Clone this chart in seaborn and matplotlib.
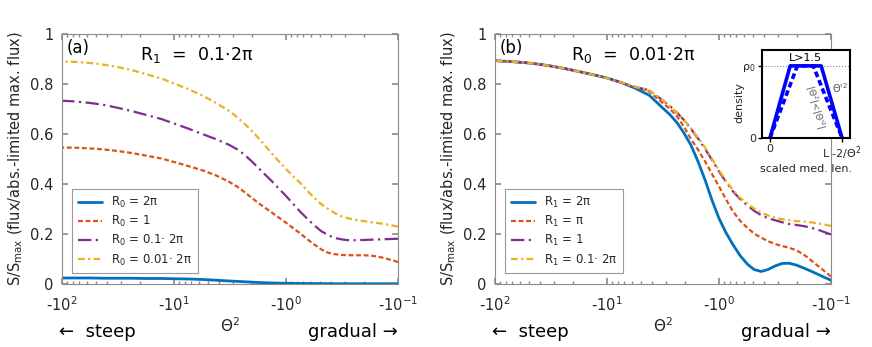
import numpy as np
import pandas as pd
import matplotlib
matplotlib.use("Agg")
import matplotlib.pyplot as plt
import seaborn as sns
from matplotlib.ticker import FixedLocator, LogLocator, NullFormatter

sns.set_theme(style="white")
plt.rcParams['font.family'] = ['DejaVu Sans']
plt.rcParams['mathtext.fontset'] = 'dejavusans'

# |Theta^2| along the x axis (the axis shows -|Theta^2|)
theta2_abs = [100, 75, 56, 42, 32, 24, 18, 13, 10, 7.5, 5.6, 4.2, 3.2,
              2.74, 2.37, 2.05, 1.78, 1.54, 1.33, 1.155, 1.0, 0.866, 0.75, 0.649,
              0.56, 0.487, 0.42, 0.365, 0.316, 0.274, 0.237, 0.205, 0.178, 0.154,
              0.133, 0.115, 0.1]

# panel (a): R1 = 0.1*2pi, varying R0
a_r0_2pi = [0.024, 0.024, 0.024, 0.023, 0.023, 0.023, 0.022, 0.022, 0.021, 0.020, 0.018, 0.015, 0.012,
            0.0105, 0.009, 0.0075, 0.006, 0.005, 0.004, 0.0035, 0.003, 0.0025, 0.002, 0.002,
            0.002, 0.0015, 0.0015, 0.001, 0.001, 0.001, 0.001, 0.001, 0.001, 0.001,
            0.001, 0.001, 0.001]
a_r0_1 = [0.546, 0.545, 0.542, 0.538, 0.532, 0.524, 0.514, 0.502, 0.488, 0.472, 0.455, 0.434, 0.408,
          0.390, 0.369, 0.347, 0.325, 0.305, 0.285, 0.265, 0.245, 0.224, 0.203, 0.180,
          0.158, 0.139, 0.125, 0.119, 0.116, 0.115, 0.115, 0.115, 0.114, 0.110,
          0.104, 0.096, 0.088]
a_r0_01 = [0.733, 0.730, 0.724, 0.716, 0.705, 0.692, 0.677, 0.660, 0.642, 0.622, 0.600, 0.579, 0.556,
           0.539, 0.519, 0.493, 0.466, 0.438, 0.410, 0.381, 0.352, 0.321, 0.290, 0.262,
           0.235, 0.212, 0.195, 0.184, 0.178, 0.175, 0.175, 0.176, 0.177, 0.178,
           0.179, 0.180, 0.181]
a_r0_001 = [0.890, 0.888, 0.884, 0.877, 0.868, 0.856, 0.840, 0.822, 0.802, 0.780, 0.754, 0.724, 0.691,
            0.668, 0.643, 0.615, 0.586, 0.554, 0.521, 0.490, 0.460, 0.432, 0.405, 0.374,
            0.345, 0.320, 0.300, 0.283, 0.270, 0.262, 0.256, 0.252, 0.248, 0.244,
            0.240, 0.235, 0.229]
a_labels = ['R$_0$ = 2π', 'R$_0$ = 1', 'R$_0$ = 0.1· 2π', 'R$_0$ = 0.01· 2π']

# panel (b): R0 = 0.01*2pi, varying R1
b_r1_2pi = [0.893, 0.890, 0.886, 0.880, 0.872, 0.862, 0.850, 0.836, 0.824, 0.806, 0.783, 0.755, 0.705,
            0.677, 0.645, 0.603, 0.555, 0.490, 0.415, 0.335, 0.262, 0.205, 0.157, 0.114,
            0.080, 0.058, 0.050, 0.058, 0.072, 0.082, 0.083, 0.076, 0.065, 0.053,
            0.040, 0.027, 0.015]
b_r1_pi = [0.893, 0.890, 0.886, 0.880, 0.872, 0.862, 0.850, 0.836, 0.824, 0.806, 0.788, 0.770, 0.725,
           0.700, 0.670, 0.628, 0.580, 0.537, 0.490, 0.440, 0.390, 0.338, 0.290, 0.253,
           0.225, 0.202, 0.185, 0.171, 0.160, 0.152, 0.145, 0.135, 0.120, 0.098,
           0.075, 0.052, 0.030]
b_r1_1 = [0.893, 0.890, 0.886, 0.880, 0.872, 0.862, 0.850, 0.836, 0.824, 0.806, 0.788, 0.775, 0.735,
          0.712, 0.685, 0.655, 0.620, 0.582, 0.540, 0.496, 0.450, 0.408, 0.370, 0.340,
          0.315, 0.293, 0.275, 0.263, 0.255, 0.247, 0.240, 0.236, 0.232, 0.226,
          0.218, 0.208, 0.198]
b_r1_01 = [0.893, 0.890, 0.886, 0.880, 0.872, 0.862, 0.850, 0.836, 0.824, 0.806, 0.788, 0.775, 0.735,
           0.712, 0.685, 0.656, 0.622, 0.585, 0.545, 0.500, 0.455, 0.413, 0.375, 0.345,
           0.322, 0.302, 0.285, 0.274, 0.265, 0.259, 0.255, 0.252, 0.250, 0.247,
           0.243, 0.238, 0.232]
b_labels = ['R$_1$ = 2π', 'R$_1$ = π', 'R$_1$ = 1', 'R$_1$ = 0.1· 2π']

# inset: density profiles
inset_x_solid = [0, 0.28, 0.71, 1]
inset_x_dashed = [0, 0.38, 0.60, 1]
inset_y = [0, 1, 1, 0]

colors = ['#0072BD', '#D95319', '#7E2F8E', '#EDB120']
dash_list = ["", (2.2, 1.2), (6, 2, 1, 2), (3, 1.5, 1, 1.5)]
txt = '#262626'
spine_c = '#8c8c8c'


def draw_panel(ax, series, labels, tag, title, title_x):
    frames = []
    for s, lab in zip(series, labels):
        frames.append(pd.DataFrame({'theta2': theta2_abs, 'S': s, 'curve': lab}))
    df = pd.concat(frames, ignore_index=True)
    ax.set_xscale('log')
    sns.lineplot(data=df, x='theta2', y='S', hue='curve', style='curve',
                 hue_order=labels, style_order=labels,
                 palette=dict(zip(labels, colors)), dashes=dict(zip(labels, dash_list)),
                 estimator=None, linewidth=1.6, legend=False, ax=ax)
    lines = ax.get_lines()
    lines[0].set_linewidth(2.0)
    ax.set_xlim(100, 0.1)
    ax.set_ylim(0, 1)
    ax.xaxis.set_major_locator(FixedLocator([100, 10, 1, 0.1]))
    ax.set_xticklabels(['-10$^{2}$', '-10$^{1}$', '-10$^{0}$', '-10$^{-1}$'])
    ax.xaxis.set_minor_locator(LogLocator(base=10, subs=np.arange(2, 10)))
    ax.xaxis.set_minor_formatter(NullFormatter())
    ax.set_yticks([0, 0.2, 0.4, 0.6, 0.8, 1])
    ax.set_yticklabels(['0', '0.2', '0.4', '0.6', '0.8', '1'])
    ax.tick_params(which='both', direction='in', top=True, right=True, bottom=True, left=True,
                   color=spine_c, labelcolor=txt, labelsize=10.5)
    ax.tick_params(axis='x', which='major', length=4, pad=8)
    ax.tick_params(axis='y', which='major', length=4, pad=6)
    ax.tick_params(which='minor', length=2)
    for sp in ax.spines.values():
        sp.set_color(spine_c)
        sp.set_linewidth(0.8)
    ax.set_xlabel('')
    ax.set_ylabel('S/S$_{\\rm max}$ (flux/abs.-limited max. flux)', fontsize=10.5, color=txt)
    ax.yaxis.set_label_coords(-0.11, 0.5)
    ax.text(0.5, -0.165, 'Θ$^2$', transform=ax.transAxes, ha='center', va='center',
            fontsize=11, color=txt)
    ax.text(-0.01, -0.192, '←  steep', transform=ax.transAxes, ha='left', va='center',
            fontsize=13, color='black')
    ax.text(1.0, -0.192, 'gradual →', transform=ax.transAxes, ha='right', va='center',
            fontsize=13, color='black')
    ax.text(0.015, 0.944, tag, transform=ax.transAxes, ha='left', va='center',
            fontsize=12, color='black')
    ax.text(title_x, 0.916, title, transform=ax.transAxes, ha='center', va='center',
            fontsize=12.5, color='black')
    leg = ax.legend(lines, labels, loc='lower left', bbox_to_anchor=(0.03, 0.042),
                    borderaxespad=0, fontsize=8.5, handlelength=2.0, labelspacing=0.35,
                    fancybox=False, framealpha=1, edgecolor='#999999', borderpad=0.5)
    leg.get_frame().set_linewidth(0.8)


fig = plt.figure(figsize=(8.72, 3.47), dpi=100)
ax_a = fig.add_axes([0.0711, 0.1816, 0.3853, 0.7205])
ax_b = fig.add_axes([0.5677, 0.1816, 0.3853, 0.7205])

draw_panel(ax_a, [a_r0_2pi, a_r0_1, a_r0_01, a_r0_001], a_labels, '(a)',
           'R$_1$  =  0.1$\\cdot$2π', 0.40)
draw_panel(ax_b, [b_r1_2pi, b_r1_pi, b_r1_1, b_r1_01], b_labels, '(b)',
           'R$_0$  =  0.01$\\cdot$2π', 0.41)

# inset in panel (b)
ins = fig.add_axes([0.8739, 0.6023, 0.1009, 0.2536])
ins.axhline(1, color='#888888', linestyle=':', linewidth=0.8)
sns.lineplot(x=inset_x_solid, y=inset_y, sort=False, estimator=None, color='#0000FF',
             linewidth=2.6, ax=ins)
sns.lineplot(x=inset_x_dashed, y=inset_y, sort=False, estimator=None, color='#0000FF',
             linewidth=2.6, linestyle=(0, (1.6, 0.9)), ax=ins)
ins.set_xlim(-0.11, 1.11)
ins.set_ylim(0, 1.22)
ins.set_xticks([0, 1])
ins.set_xticklabels(['0', 'L -2/Θ$^2$'])
ins.set_yticks([0, 1])
ins.set_yticklabels(['0', 'ρ$_0$'])
ins.tick_params(direction='out', length=3, width=1, color='black', labelcolor=txt,
                labelsize=8, pad=1.5, bottom=True, left=True)
for sp in ins.spines.values():
    sp.set_color('black')
    sp.set_linewidth(1.5)
ins.set_facecolor('white')
ins.set_xlabel('scaled med. len.', fontsize=8, color=txt)
ins.xaxis.set_label_coords(0.5, -0.3)
ins.set_ylabel('density', fontsize=8, color=txt)
ins.yaxis.set_label_coords(-0.2, 0.4)
ins.text(0.49, 1.11, 'L>1.5', ha='center', va='center', fontsize=8, color='black')
ins.text(0.97, 0.69, "Θ'$^2$", ha='center', va='center', fontsize=7, color='#555555')
ins.text(0.62, 0.42, "|Θ$^2$|<|Θ'$^2$|", ha='center', va='center', fontsize=6.5,
         color='#555555', rotation=-75)

fig.savefig('out.png', dpi=100)
